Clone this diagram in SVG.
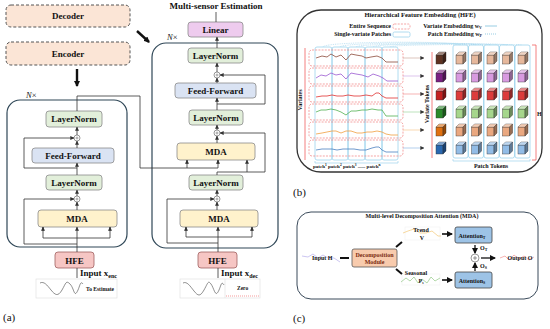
<svg xmlns="http://www.w3.org/2000/svg" xmlns:xlink="http://www.w3.org/1999/xlink" width="550" height="329" viewBox="0 0 550 329">
<style>
text{font-family:"Liberation Serif","Times New Roman",serif;font-weight:bold;fill:#111;}
.t9{font-size:9px;text-anchor:middle;}
.t6{font-size:6px;}
.bx{stroke:#8a8a8a;stroke-width:0.8;}
.ln{fill:#e2efda;}
.ff{fill:#dae3f3;}
.mda{fill:#fff2cc;}
.hfe{fill:#f6c6c4;stroke:#a06060;stroke-width:0.8;}
.big{fill:none;stroke:#2f4757;stroke-width:1.2;}
.w{fill:none;stroke:#333;stroke-width:0.8;}
.thick{fill:none;stroke:#111;stroke-width:2.4;}
.pc{fill:none;stroke:#9dd3ec;stroke-width:0.8;}
.rw{fill:none;stroke:#f08080;stroke-width:0.7;stroke-dasharray:2 1.2;}
.plus{fill:#fff;stroke:#555;stroke-width:0.6;}
</style>
<defs>
<marker id="ar" viewBox="0 0 6 6" refX="5.5" refY="3" markerWidth="4" markerHeight="4" orient="auto" markerUnits="userSpaceOnUse"><path d="M0,0 L6,3 L0,6 z" fill="#333"/></marker>
<marker id="arT" viewBox="0 0 6 6" refX="5" refY="3" markerWidth="6" markerHeight="6" orient="auto" markerUnits="userSpaceOnUse"><path d="M0,0 L6,3 L0,6 z" fill="#111"/></marker>
<symbol id="cube" viewBox="0 0 10 12" width="10" height="12" overflow="visible">
<rect x="0" y="3" width="7" height="9" fill="currentColor" stroke="#333" stroke-width="0.4"/>
<path d="M0 3 L3 0 L10 0 L7 3 Z" fill="currentColor" stroke="#333" stroke-width="0.4"/>
<path d="M0 3 L3 0 L10 0 L7 3 Z" fill="#fff" opacity="0.4"/>
<path d="M7 3 L10 0 L10 9 L7 12 Z" fill="currentColor" stroke="#333" stroke-width="0.4"/>
<path d="M7 3 L10 0 L10 9 L7 12 Z" fill="#000" opacity="0.35"/>
</symbol>
</defs>

<!-- ============ Panel (a) ============ -->
<g id="decoder-box"><rect x="6" y="5" width="124" height="22" rx="5" fill="#fbe5d6" stroke="#555" stroke-width="1" stroke-dasharray="3 2"/><text class="t9" x="68" y="19">Decoder</text></g>
<g id="encoder-box"><rect x="6" y="42" width="124" height="23" rx="5" fill="#fbe5d6" stroke="#555" stroke-width="1" stroke-dasharray="3 2"/><text class="t9" x="68" y="57">Encoder</text></g>

<g id="enc-stack">
<rect class="big" x="7" y="100" width="120" height="147" rx="13"/>
<text x="26" y="98" style="font-size:8.5px;font-weight:normal;font-style:italic">N<tspan font-style="normal">×</tspan></text>
</g>
<g id="enc-ln1"><rect class="bx ln" x="46" y="111" width="56" height="16" rx="3"/><text class="t9" x="74" y="122">LayerNorm</text></g>
<g id="enc-add1"><circle class="plus" cx="77" cy="138" r="3"/><path d="M75.5 138h3M77 136.5v3" stroke="#555" stroke-width="0.5"/></g>
<g id="enc-ff"><rect class="bx ff" x="32" y="148" width="82" height="15" rx="3"/><text class="t9" x="73" y="159">Feed-Forward</text></g>
<g id="enc-ln2"><rect class="bx ln" x="46" y="175" width="56" height="15" rx="3"/><text class="t9" x="74" y="185.5">LayerNorm</text></g>
<g id="enc-add2"><circle class="plus" cx="77" cy="199" r="3"/><path d="M75.5 199h3M77 197.5v3" stroke="#555" stroke-width="0.5"/></g>
<g id="enc-mda"><rect class="bx mda" x="38" y="210" width="79" height="17" rx="3"/><text class="t9" x="77" y="221.5">MDA</text></g>
<g id="enc-hfe"><rect class="hfe" x="55" y="252" width="39" height="16" rx="3"/><text class="t9" x="74.5" y="263.5">HFE</text></g>
<g id="enc-input">
<text x="80" y="276" style="font-size:9px">Input x<tspan dy="2" style="font-size:6px">enc</tspan></text>
<rect x="36" y="279" width="81" height="19" fill="#fff" stroke="#ddd" stroke-width="0.6"/>
<path d="M40 283 C44 281,47 285,51 290 S58 297,62 290 S66 280,70 284 S74 297,77 292 S80 280,83 284" fill="none" stroke="#444" stroke-width="0.6"/>
<text x="86" y="291" style="font-size:5.5px">To Estimate</text>
</g>

<g id="dec-title"><text class="t9" x="216" y="9">Multi-sensor Estimation</text></g>
<g id="dec-linear"><rect class="bx" x="188" y="22" width="55" height="15" rx="3" fill="#eecbee"/><text class="t9" x="215.5" y="32.5">Linear</text></g>
<g id="dec-stack">
<rect class="big" x="152" y="43" width="126" height="205" rx="14"/>
<text x="167" y="40" style="font-size:8.5px;font-weight:normal;font-style:italic">N<tspan font-style="normal">×</tspan></text>
</g>
<g id="dec-ln1"><rect class="bx ln" x="188" y="48" width="55" height="15" rx="3"/><text class="t9" x="215.5" y="58.5">LayerNorm</text></g>
<g id="dec-add1"><circle class="plus" cx="217" cy="75" r="3"/><path d="M215.5 75h3M217 73.5v3" stroke="#555" stroke-width="0.5"/></g>
<g id="dec-ff"><rect class="bx ff" x="175" y="83" width="81" height="15" rx="3"/><text class="t9" x="215.5" y="93.5">Feed-Forward</text></g>
<g id="dec-ln2"><rect class="bx ln" x="189" y="110" width="54" height="15" rx="3"/><text class="t9" x="216" y="120.5">LayerNorm</text></g>
<g id="dec-add2"><circle class="plus" cx="217" cy="133" r="3"/><path d="M215.5 133h3M217 131.5v3" stroke="#555" stroke-width="0.5"/></g>
<g id="dec-mda1"><rect class="bx mda" x="177" y="143" width="78" height="17" rx="3"/><text class="t9" x="216" y="154.5">MDA</text></g>
<g id="dec-ln3"><rect class="bx ln" x="189" y="175" width="54" height="15" rx="3"/><text class="t9" x="216" y="185.5">LayerNorm</text></g>
<g id="dec-add3"><circle class="plus" cx="217" cy="199" r="3"/><path d="M215.5 199h3M217 197.5v3" stroke="#555" stroke-width="0.5"/></g>
<g id="dec-mda2"><rect class="bx mda" x="180" y="210" width="78" height="17" rx="3"/><text class="t9" x="219" y="221.5">MDA</text></g>
<g id="dec-hfe"><rect class="hfe" x="198" y="252" width="39" height="16" rx="3"/><text class="t9" x="217.5" y="263.5">HFE</text></g>
<g id="dec-input">
<text x="221" y="276" style="font-size:9px">Input x<tspan dy="2" style="font-size:6px">dec</tspan></text>
<rect x="180" y="279" width="80" height="19" fill="#fff" stroke="#ddd" stroke-width="0.6"/>
<line x1="225" y1="279" x2="225" y2="298" stroke="#ddd" stroke-width="0.6"/>
<path d="M183 283 C187 281,190 286,194 291 S200 297,204 290 S208 280,211 284 S215 297,218 292 S221 280,224 285" fill="none" stroke="#444" stroke-width="0.6"/>
<text x="237" y="290" style="font-size:5.5px">Zero</text>
<line x1="226" y1="296" x2="259" y2="296" stroke="#f07070" stroke-width="0.7" stroke-dasharray="1 1"/>
</g>
<text x="3" y="321" style="font-size:11px;font-weight:normal">(a)</text>

<g id="connectors-a">
<line class="thick" x1="77" y1="69" x2="77" y2="86" marker-end="url(#arT)"/>
<line class="thick" x1="137" y1="31" x2="149" y2="42" marker-end="url(#arT)"/>
<!-- encoder -->
<path class="w" d="M77 268V278" stroke-width="1.8"/>
<path class="w" d="M77 252V227" marker-end="url(#ar)"/>
<path class="w" d="M43 238H110M43 238V227M110 238V227" />
<path class="w" d="M43 231V227" marker-end="url(#ar)"/>
<path class="w" d="M110 231V227" marker-end="url(#ar)"/>
<path class="w" d="M77 244H24V199H74" marker-end="url(#ar)"/>
<path class="w" d="M77 210V202" marker-end="url(#ar)"/>
<path class="w" d="M77 196V190" marker-end="url(#ar)"/>
<path class="w" d="M77 175V163" marker-end="url(#ar)"/>
<path class="w" d="M77 168H24V138H74" marker-end="url(#ar)"/>
<path class="w" d="M77 148V141" marker-end="url(#ar)"/>
<path class="w" d="M77 135V127" marker-end="url(#ar)"/>
<path class="w" d="M77 111V96H140V168H218V160M187 168V160"/>
<path class="w" d="M187 164V160" marker-end="url(#ar)"/>
<path class="w" d="M218 164V160" marker-end="url(#ar)"/>
<!-- decoder -->
<path class="w" d="M218 268V278" stroke-width="1.8"/>
<path class="w" d="M218 252V227" marker-end="url(#ar)"/>
<path class="w" d="M186 237H252M186 237V227M252 237V227"/>
<path class="w" d="M186 231V227" marker-end="url(#ar)"/>
<path class="w" d="M252 231V227" marker-end="url(#ar)"/>
<path class="w" d="M218 243H167V199H214" marker-end="url(#ar)"/>
<path class="w" d="M217 210V202" marker-end="url(#ar)"/>
<path class="w" d="M217 196V190" marker-end="url(#ar)"/>
<path class="w" d="M217 175V172H265V133H220" marker-end="url(#ar)"/>
<path class="w" d="M247 172V160" marker-end="url(#ar)"/>
<path class="w" d="M217 143V136" marker-end="url(#ar)"/>
<path class="w" d="M217 130V125" marker-end="url(#ar)"/>
<path class="w" d="M217 110V98" marker-end="url(#ar)"/>
<path class="w" d="M217 104H265V75H220" marker-end="url(#ar)"/>
<path class="w" d="M217 83V78" marker-end="url(#ar)"/>
<path class="w" d="M217 72V63" marker-end="url(#ar)"/>
<path class="w" d="M217 48V37" marker-end="url(#ar)"/>
<path class="w" d="M216 22V12"/>
</g>

<!-- ============ Panel (b) ============ -->
<g id="hfe-panel">
<rect x="297" y="10" width="245" height="162" rx="24" fill="#fff" stroke="#333" stroke-width="1.3"/>
<text x="420" y="17" style="font-size:6.5px;text-anchor:middle">Hierarchical Feature Embedding (HFE)</text>
<text x="391" y="28" class="t6" text-anchor="end">Entire Sequence</text>
<rect x="393" y="24" width="17" height="5" rx="1.5" class="rw"/>
<text x="482" y="28" class="t6" text-anchor="end">Variate Embedding w<tspan dy="1" style="font-size:4px">V</tspan></text>
<line x1="485" y1="26" x2="497" y2="26" stroke="#7fc0dc" stroke-width="0.8"/>
<text x="391" y="36" class="t6" text-anchor="end">Single-variate Patches</text>
<rect x="393" y="32" width="17" height="5" rx="1.5" class="pc"/>
<text x="482" y="36" class="t6" text-anchor="end">Patch Embedding w<tspan dy="1" style="font-size:4px">P</tspan></text>
<line x1="485" y1="34" x2="497" y2="34" stroke="#7fc0dc" stroke-width="0.8" stroke-dasharray="1 1"/>
</g>
<g id="series">
<line x1="305" y1="48" x2="305" y2="160" stroke="#f06060" stroke-width="0.8"/>
<text transform="translate(302,100) rotate(-90)" class="t6" text-anchor="middle">Variates</text>
<rect class="pc" x="315" y="47" width="17" height="113" rx="2"/>
<rect class="pc" x="332" y="47" width="16" height="113" rx="2"/>
<rect class="pc" x="348" y="47" width="17" height="113" rx="2"/>
<rect class="pc" x="365" y="47" width="17" height="113" rx="2"/>
<rect class="pc" x="382" y="47" width="16" height="113" rx="2"/>
<rect class="rw" x="309" y="50" width="94" height="16" rx="3"/>
<rect class="rw" x="309" y="68" width="94" height="16" rx="3"/>
<rect class="rw" x="309" y="86" width="94" height="16" rx="3"/>
<rect class="rw" x="309" y="104" width="94" height="16" rx="3"/>
<rect class="rw" x="309" y="122" width="94" height="16" rx="3"/>
<rect class="rw" x="309" y="140" width="94" height="16" rx="3"/>
<polyline fill="none" stroke="#8b4a3a" stroke-width="0.8" points="316,58 322,56 327,57 331,54 336,57 341,55 346,60 351,54 356,55 362,56 366,58 371,57 377,56 382,58 386,62 391,62 398,62"/>
<polyline fill="none" stroke="#9b59d0" stroke-width="0.8" points="316,78 321,75 326,76 331,73 336,75 341,74 346,79 351,73 356,74 362,75 368,77 373,74 379,76 383,78 387,81 391,81 398,81"/>
<polyline fill="none" stroke="#e03030" stroke-width="0.8" points="316,97 322,96 327,96 332,95 337,96 343,96 348,95 354,96 360,96 366,95 372,96 376,93 379,93 382,96 386,98 391,98 398,98"/>
<polyline fill="none" stroke="#50b050" stroke-width="0.8" points="316,112 321,110 326,110 331,109 336,110 341,112 346,115 351,111 356,111 362,110 367,110 372,109 378,110 382,110 386,116 391,116 398,116"/>
<polyline fill="none" stroke="#f0a040" stroke-width="0.8" points="316,134 322,133 327,132 332,131 336,131 341,133 346,131 351,131 357,133 362,133 367,132 372,132 377,131 382,132 386,134 391,135 398,135"/>
<polyline fill="none" stroke="#4a80c0" stroke-width="0.8" points="316,150 322,149 327,149 332,149 337,150 343,149 348,149 354,149 360,150 366,150 372,148 376,147 379,147 382,150 386,152 391,152 398,152"/>
<path d="M315 161V163H398V161" fill="none" stroke="#9dd3ec" stroke-width="0.7"/>
<text x="313" y="168" class="t6" style="font-size:5px">patch<tspan dy="-2" style="font-size:3.5px">1</tspan><tspan dy="2"> patch</tspan><tspan dy="-2" style="font-size:3.5px">2</tspan><tspan dy="2"> patch</tspan><tspan dy="-2" style="font-size:3.5px">3</tspan><tspan dy="2"> ...... patch</tspan><tspan dy="-2" style="font-size:3.5px">n</tspan></text>
</g>
<g id="patch-embedding-arcs" fill="none" stroke="#9dd3ec" stroke-width="0.6" stroke-dasharray="1 0.8">
<path d="M323 47 C323 41,460 41,460 45"/>
<path d="M340 47 C340 42,476 42,476 45"/>
<path d="M356 47 C356 43,491 43,491 45"/>
<path d="M373 47 C373 43,507 43,507 45"/>
<path d="M390 47 C390 44,522 44,522 45"/>
</g>
<g id="variate-tokens">
<line x1="403" y1="58" x2="424" y2="58" stroke="#c8a090" stroke-width="0.6" marker-end="url(#ar)"/>
<line x1="403" y1="76" x2="424" y2="76" stroke="#c8a0e0" stroke-width="0.6" marker-end="url(#ar)"/>
<line x1="403" y1="94" x2="424" y2="94" stroke="#f08080" stroke-width="0.6" marker-end="url(#ar)"/>
<line x1="403" y1="112" x2="424" y2="112" stroke="#90d090" stroke-width="0.6" marker-end="url(#ar)"/>
<line x1="403" y1="130" x2="424" y2="130" stroke="#f5c080" stroke-width="0.6" marker-end="url(#ar)"/>
<line x1="403" y1="148" x2="424" y2="148" stroke="#80b0e0" stroke-width="0.6" marker-end="url(#ar)"/>
<line x1="432" y1="52" x2="432" y2="158" stroke="#f06060" stroke-width="0.8"/>
<text transform="translate(429,104) rotate(-90)" class="t6" text-anchor="middle">Variate Tokens</text>
<use href="#cube" x="436" y="52" color="#5e3222"/>
<use href="#cube" x="436" y="70" color="#7b1f82"/>
<use href="#cube" x="436" y="88" color="#c42020"/>
<use href="#cube" x="436" y="106" color="#2a8a2a"/>
<use href="#cube" x="436" y="124" color="#e07010"/>
<use href="#cube" x="436" y="142" color="#2a68b0"/>
</g>
<g id="patch-tokens">
<rect class="pc" x="453" y="45" width="15" height="113" rx="2"/>
<rect class="pc" x="468.5" y="45" width="15" height="113" rx="2"/>
<rect class="pc" x="484" y="45" width="15" height="113" rx="2"/>
<rect class="pc" x="499.5" y="45" width="15" height="113" rx="2"/>
<rect class="pc" x="515" y="45" width="15" height="113" rx="2"/>
<g id="pt-row1" color="#e6b89c"><use href="#cube" x="456" y="52"/><use href="#cube" x="471.5" y="52"/><use href="#cube" x="487" y="52"/><use href="#cube" x="502.5" y="52"/><use href="#cube" x="518" y="52"/></g>
<g id="pt-row2" color="#d89ae0"><use href="#cube" x="456" y="70"/><use href="#cube" x="471.5" y="70"/><use href="#cube" x="487" y="70"/><use href="#cube" x="502.5" y="70"/><use href="#cube" x="518" y="70"/></g>
<g id="pt-row3" color="#dc3c3c"><use href="#cube" x="456" y="88"/><use href="#cube" x="471.5" y="88"/><use href="#cube" x="487" y="88"/><use href="#cube" x="502.5" y="88"/><use href="#cube" x="518" y="88"/></g>
<g id="pt-row4" color="#a6d68c"><use href="#cube" x="456" y="106"/><use href="#cube" x="471.5" y="106"/><use href="#cube" x="487" y="106"/><use href="#cube" x="502.5" y="106"/><use href="#cube" x="518" y="106"/></g>
<g id="pt-row5" color="#eaa880"><use href="#cube" x="456" y="124"/><use href="#cube" x="471.5" y="124"/><use href="#cube" x="487" y="124"/><use href="#cube" x="502.5" y="124"/><use href="#cube" x="518" y="124"/></g>
<g id="pt-row6" color="#92bce6"><use href="#cube" x="456" y="142"/><use href="#cube" x="471.5" y="142"/><use href="#cube" x="487" y="142"/><use href="#cube" x="502.5" y="142"/><use href="#cube" x="518" y="142"/></g>
<path d="M453 159V161H530V159" fill="none" stroke="#9dd3ec" stroke-width="0.7"/>
<text x="491" y="168" class="t6" text-anchor="middle">Patch Tokens</text>
<path d="M532 45H536V160H532" fill="none" stroke="#f06060" stroke-width="0.8"/>
<text x="537" y="116" class="t6">H</text>
</g>
<text x="293" y="196" style="font-size:11px;font-weight:normal">(b)</text>

<!-- ============ Panel (c) ============ -->
<g id="mda-panel">
<rect x="297" y="212" width="241" height="87" rx="14" fill="#fff" stroke="#3a4a5a" stroke-width="1"/>
<text x="422" y="218" style="font-size:6px;text-anchor:middle">Multi-level Decomposition Attention (MDA)</text>
</g>
<g id="input-h">
<polyline fill="none" stroke="#a9a0e8" stroke-width="0.6" points="302,256 308,257 313,254 318,258 323,255 328,258 334,258 340,262"/>
<text x="312" y="260" class="t6">Input H</text>
</g>
<g id="decomp"><rect x="352" y="249" width="45" height="18" rx="2" fill="#f8cbad" stroke="#555" stroke-width="0.8"/><text x="374.5" y="256.5" class="t6" text-anchor="middle" style="fill:#7a2a10">Decomposition</text><text x="374.5" y="264" class="t6" text-anchor="middle" style="fill:#7a2a10">Module</text></g>
<g id="trend">
<rect x="405" y="227" width="35" height="13" fill="#fff" stroke="#eee" stroke-width="0.5"/>
<polyline fill="none" stroke="#f2c060" stroke-width="0.6" points="403,233 408,231 414,229 420,233 426,233 432,231 438,236 441,236"/>
<text x="421" y="232" class="t6" text-anchor="middle">Trend</text>
<text x="422" y="240" class="t6" text-anchor="middle">V</text>
</g>
<g id="seasonal">
<rect x="402" y="274" width="38" height="11" fill="#fff" stroke="#eee" stroke-width="0.5"/>
<polyline fill="none" stroke="#80c070" stroke-width="0.6" points="401,282 406,278 410,281 414,277 418,283 422,279 427,283 431,277 435,281 440,278"/>
<text x="416" y="275" class="t6" text-anchor="middle">Seasonal</text>
<text x="421" y="283" class="t6" text-anchor="middle">P<tspan dy="1" style="font-size:3.5px">s</tspan></text>
</g>
<g id="att-t"><rect x="455" y="227" width="37" height="16" rx="2" fill="#9dc3e6" stroke="#444" stroke-width="0.8"/><text x="472" y="238" class="t6" text-anchor="middle">Attention<tspan dy="1" style="font-size:4px">T</tspan></text></g>
<g id="att-s"><rect x="455" y="272" width="37" height="16" rx="2" fill="#9dc3e6" stroke="#444" stroke-width="0.8"/><text x="472" y="283" class="t6" text-anchor="middle">Attention<tspan dy="1" style="font-size:4px">S</tspan></text></g>
<g id="sum"><circle cx="475" cy="258" r="4" fill="#fff" stroke="#555" stroke-width="0.6"/><path d="M473 258h4M475 256v4" stroke="#555" stroke-width="0.6"/></g>
<g id="output-o">
<polyline fill="none" stroke="#f08080" stroke-width="0.6" points="500,258 505,256 509,260 514,255 519,259 524,256 529,260 534,257"/>
<text x="520" y="260" class="t6" text-anchor="middle">Output O</text>
</g>
<g id="connectors-c">
<line x1="340" y1="258" x2="349" y2="258" stroke="#111" stroke-width="2"/>
<line x1="396" y1="247" x2="402" y2="242" stroke="#111" stroke-width="2"/>
<line x1="396" y1="269" x2="402" y2="274" stroke="#111" stroke-width="2"/>
<line x1="442" y1="234" x2="452" y2="234" stroke="#111" stroke-width="1.6" marker-end="url(#arT)"/>
<line x1="442" y1="280" x2="452" y2="280" stroke="#111" stroke-width="1.6" marker-end="url(#arT)"/>
<line x1="475" y1="245" x2="475" y2="253" stroke="#111" stroke-width="1.3" marker-end="url(#arT)"/>
<line x1="475" y1="271" x2="475" y2="263" stroke="#111" stroke-width="1.3" marker-end="url(#arT)"/>
<line x1="481" y1="258" x2="495" y2="258" stroke="#111" stroke-width="1.3" marker-end="url(#arT)"/>
<text x="480" y="250" class="t6">O<tspan dy="1" style="font-size:4px">T</tspan></text>
<text x="480" y="268" class="t6">O<tspan dy="1" style="font-size:4px">S</tspan></text>
</g>
<text x="293" y="322" style="font-size:11px;font-weight:normal">(c)</text>
</svg>
